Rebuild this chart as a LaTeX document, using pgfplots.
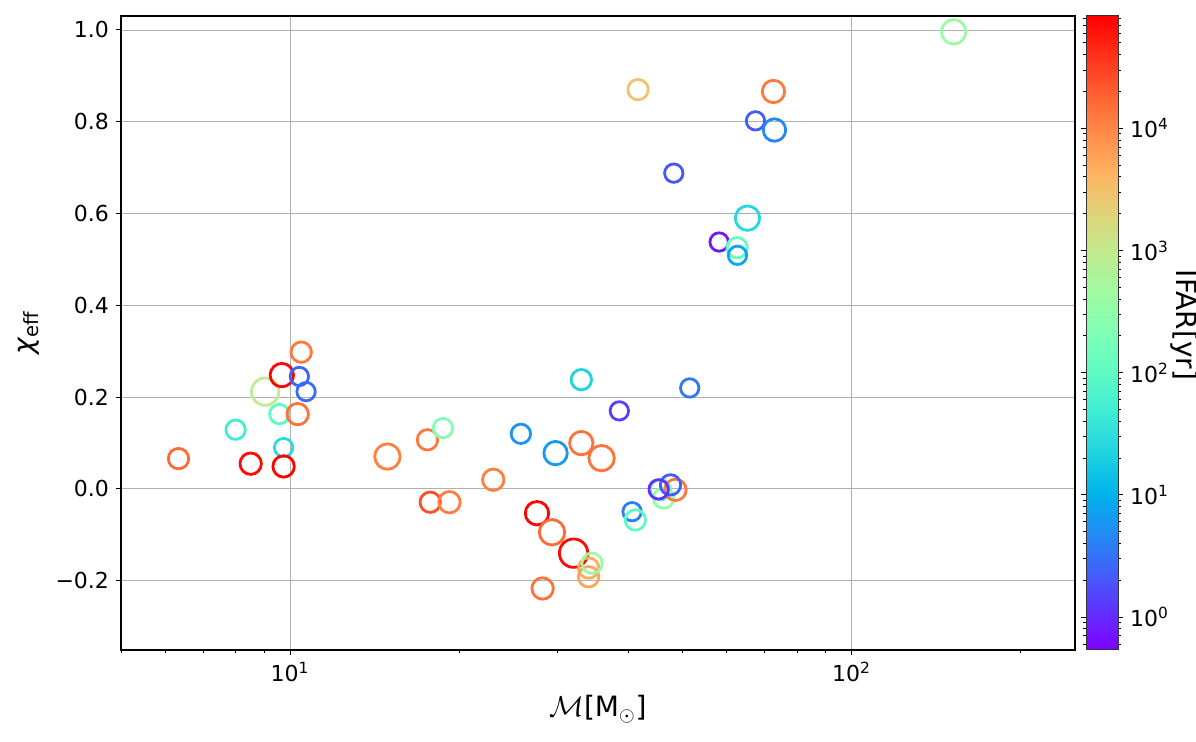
\documentclass[border=0pt]{standalone}
\usepackage{fontspec}
\setmainfont{DejaVu Sans}
\usepackage{pgfplots}
\pgfplotsset{compat=1.18}
\definecolor{gridc}{RGB}{176,176,176}
\begin{document}
\begin{tikzpicture}
\begin{axis}[
  name=ax,
  scale only axis, width=477pt, height=317pt,
  xmode=log, xmin=5, xmax=250, ymin=-0.351, ymax=1.0305,
  xtick={10,100}, xticklabels={10\textsuperscript{1},10\textsuperscript{2}},
  minor xtick={5,6,7,8,9,20,30,40,50,60,70,80,90,200},
  ytick={-0.2,0,0.2,0.4,0.6,0.8,1.0},
  yticklabels={−0.2,0.0,0.2,0.4,0.6,0.8,1.0},
  xtick pos=lower, ytick pos=left,
  tick align=outside,
  major tick length=2.5pt, minor tick length=1.4pt,
  tick style={black, line width=0.5pt},
  grid=major, major grid style={gridc, line width=0.45pt},
  axis line style={line width=0.55pt},
  tick label style={font=\fontsize{11}{13}\selectfont},
  label style={font=\fontsize{14}{16}\selectfont},
  xlabel={$\mathcal{M}$[M$_{\odot}$]},
  ylabel={\textit{χ}\textsubscript{eff}},
  xlabel style={at={(axis description cs:0.5,-0.1057)}, anchor=base},
  ylabel style={at={(axis description cs:-0.0912,0.5)}, anchor=base},
  colormap={mplrainbow}{
    rgb=(0.5,0,1)
    rgb=(0.375,0.195,0.995)
    rgb=(0.25,0.383,0.981)
    rgb=(0.125,0.556,0.957)
    rgb=(0,0.707,0.924)
    rgb=(0.125,0.831,0.882)
    rgb=(0.25,0.924,0.831)
    rgb=(0.375,0.981,0.773)
    rgb=(0.5,1,0.707)
    rgb=(0.625,0.981,0.634)
    rgb=(0.75,0.924,0.556)
    rgb=(0.875,0.831,0.471)
    rgb=(1,0.707,0.383)
    rgb=(1,0.556,0.290)
    rgb=(1,0.383,0.195)
    rgb=(1,0.195,0.098)
    rgb=(1,0,0)
  },
  point meta min=-0.27, point meta max=4.92,
  colorbar,
  colorbar/width=16pt,
  colorbar style={
    scale only axis, width=16pt, height=317pt,
    at={(parent axis.north east)}, anchor=north west, xshift=-3pt,
    ytick={0,1,2,3,4},
    yticklabels={10\textsuperscript{0},10\textsuperscript{1},10\textsuperscript{2},10\textsuperscript{3},10\textsuperscript{4}},
    minor ytick={-0.222,-0.155,-0.097,-0.046,
      0.301,0.477,0.602,0.699,0.778,0.845,0.903,0.954,
      1.301,1.477,1.602,1.699,1.778,1.845,1.903,1.954,
      2.301,2.477,2.602,2.699,2.778,2.845,2.903,2.954,
      3.301,3.477,3.602,3.699,3.778,3.845,3.903,3.954,
      4.301,4.477,4.602,4.699,4.778,4.845,4.903},
    tick align=outside, major tick length=2.5pt, minor tick length=1.4pt,
    tick style={black, line width=0.5pt},
    axis line style={line width=0.5pt, black!80},
    tick label style={font=\fontsize{11}{13}\selectfont},
    ylabel={IFAR[yr]},
    ylabel style={font=\fontsize{14}{16}\selectfont, at={(axis description cs:2.84,0.5126)}, anchor=base, rotate=180},
  },
]
\addplot[
  scatter, only marks, mark=o,
  mark options={line width=1.4pt},
  scatter/use mapped color={draw=mapped color, fill=none},
  visualization depends on={\thisrow{s} \as \msize},
  scatter/@pre marker code/.append style={/tikz/mark size=\msize pt},
  point meta=\thisrow{f},
] table {
m c f s
6.33 0.066 4.20 5.1
8.00 0.129 1.70 4.85
8.51 0.055 4.85 5.35
9.03 0.212 2.95 6.85
9.67 0.248 4.90 5.85
9.57 0.163 2.00 4.85
9.74 0.090 1.45 4.6
9.74 0.049 4.90 5.35
10.47 0.298 4.10 5.1
10.39 0.245 0.40 4.6
10.68 0.212 0.45 4.6
10.32 0.163 4.15 5.35
14.91 0.0705 4.05 6.35
17.57 0.107 4.10 5.1
18.72 0.1325 2.35 4.85
25.77 0.120 0.75 4.85
29.71 0.078 0.80 5.85
33.02 0.0998 4.15 5.85
35.88 0.067 4.15 6.35
38.59 0.170 0.15 4.6
51.50 0.220 0.55 4.6
33.02 0.238 1.35 5.1
23.01 0.020 4.05 5.35
17.77 -0.029 4.40 5.1
19.23 -0.029 4.05 5.35
27.53 -0.053 4.90 5.85
29.28 -0.0945 4.20 6.35
31.99 -0.140 4.85 7.1
34.02 -0.1725 3.70 5.1
34.02 -0.1915 3.75 5.1
34.50 -0.162 2.60 5.1
28.17 -0.217 4.15 5.35
40.66 -0.0496 0.60 4.6
41.21 -0.0677 2.00 5.1
45.66 -0.002 2.00 5.1
46.28 -0.020 2.55 5.1
48.58 -0.002 4.10 5.35
47.59 0.0087 0.35 5.1
45.34 -0.001 0.05 4.85
41.67 0.870 3.45 5.1
72.61 0.866 4.10 5.6
67.44 0.802 0.35 4.6
72.91 0.782 0.65 5.6
48.24 0.688 0.30 4.6
65.27 0.590 1.40 6.1
58.10 0.538 -0.10 4.6
62.56 0.5255 2.05 5.1
62.64 0.509 0.90 4.6
152.0 0.996 2.60 6.1
};
\end{axis}
\pgfresetboundingbox
\path (ax.south west) ++(-60.5pt,-46pt) rectangle ++(598pt,371pt);
\end{tikzpicture}
\end{document}
